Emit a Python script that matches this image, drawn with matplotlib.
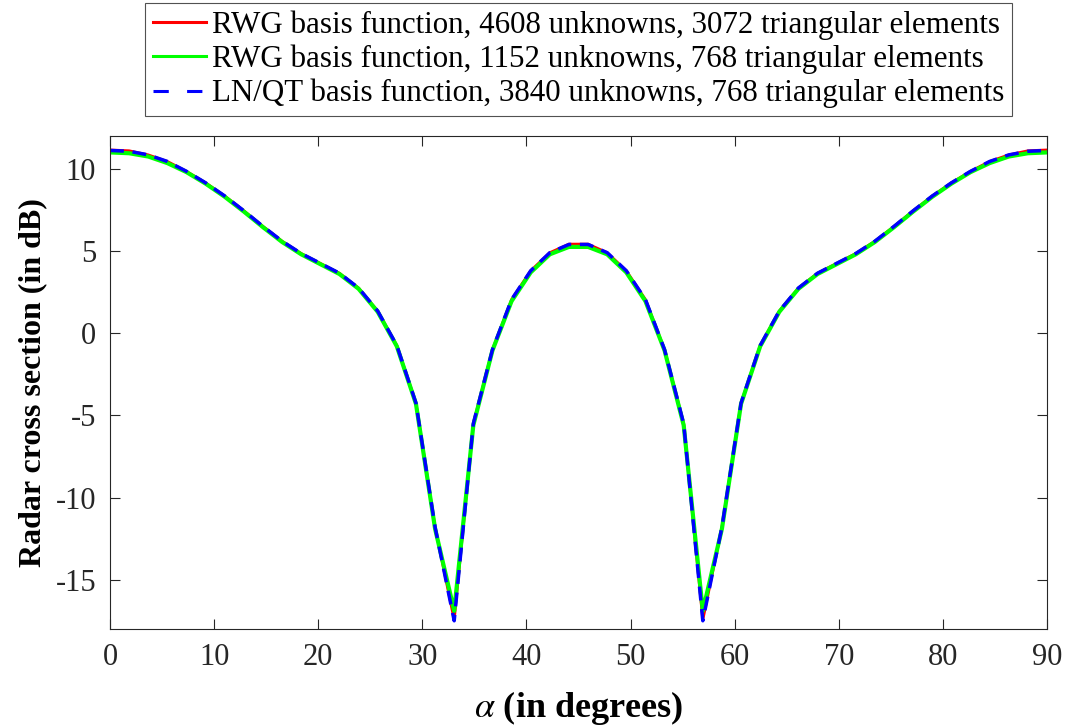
import matplotlib
matplotlib.use("Agg")
import matplotlib.pyplot as plt
import numpy as np

plt.rcParams['font.family'] = ['Liberation Serif', 'DejaVu Serif']
plt.rcParams['mathtext.fontset'] = 'stix'
plt.rcParams['axes.unicode_minus'] = False

# incidence angle samples (degrees)
alpha = np.linspace(0, 90, 50)

# RCS values (dB)
rwg_fine = [11.15, 11.1, 10.85, 10.45, 9.85, 9.15, 8.35, 7.45, 6.5, 5.6,
            4.85, 4.25, 3.65, 2.75, 1.35, -0.75, -4.25, -11.8, -17.45, -5.5,
            -1.0, 2.05, 3.8, 4.9, 5.42,
            5.42, 4.9, 3.8, 2.05, -1.0, -5.5, -17.45, -11.8, -4.25, -0.75,
            1.35, 2.75, 3.65, 4.25, 4.85, 5.6, 6.5, 7.45, 8.35, 9.15,
            9.85, 10.45, 10.85, 11.1, 11.15]
rwg_coarse = [11.0, 10.95, 10.75, 10.35, 9.8, 9.1, 8.3, 7.4, 6.45, 5.55,
              4.8, 4.2, 3.6, 2.7, 1.3, -0.8, -4.3, -11.9, -16.9, -5.6,
              -1.05, 1.95, 3.7, 4.8, 5.25,
              5.25, 4.8, 3.7, 1.95, -1.05, -5.6, -16.9, -11.9, -4.3, -0.8,
              1.3, 2.7, 3.6, 4.2, 4.8, 5.55, 6.45, 7.4, 8.3, 9.1,
              9.8, 10.35, 10.75, 10.95, 11.0]
lnqt = [11.12, 11.07, 10.85, 10.45, 9.85, 9.15, 8.35, 7.45, 6.5, 5.6,
        4.85, 4.25, 3.65, 2.75, 1.35, -0.75, -4.25, -11.8, -17.5, -5.5,
        -1.0, 2.05, 3.8, 4.9, 5.4,
        5.4, 4.9, 3.8, 2.05, -1.0, -5.5, -17.5, -11.8, -4.25, -0.75,
        1.35, 2.75, 3.65, 4.25, 4.85, 5.6, 6.5, 7.45, 8.35, 9.15,
        9.85, 10.45, 10.85, 11.07, 11.12]

labels = ['RWG basis function, 4608 unknowns, 3072 triangular elements',
          'RWG basis function, 1152 unknowns, 768 triangular elements',
          'LN/QT basis function, 3840 unknowns, 768 triangular elements']

fig = plt.figure(figsize=(10.72, 7.26), dpi=100)
ax = fig.add_axes([0.1026, 0.1336, 0.8741, 0.6791])

ax.plot(alpha, rwg_fine, color='#ff0000', lw=2, label=labels[0])
ax.plot(alpha, rwg_coarse, color='#00ff00', lw=3, label=labels[1])
ax.plot(alpha, lnqt, color='#0000ff', lw=2.5, ls=(0, (4, 2.5)), label=labels[2])

ax.set_xlim(0, 90)
ax.set_ylim(-18, 12)
ax.set_xticks(np.arange(0, 91, 10))
ax.set_yticks([-15, -10, -5, 0, 5, 10])
ax.tick_params(direction='in', top=True, right=True, length=7, width=0.8,
               colors='#262626', labelsize=22, pad=10)
for s in ax.spines.values():
    s.set_color('#262626')
    s.set_linewidth(0.8)

ax.set_xlabel(r'$\alpha$ (in degrees)', fontsize=26, fontweight='bold', labelpad=12)
ax.set_ylabel('Radar cross section (in dB)', fontsize=23, fontweight='bold', labelpad=6)

leg = fig.legend(loc='upper center', bbox_to_anchor=(0.5397, 0.996), fontsize=22.3,
                 frameon=True, fancybox=False, edgecolor='#262626',
                 handlelength=1.7, handletextpad=0.2, borderpad=0.25,
                 labelspacing=0.15, borderaxespad=0)
leg.get_frame().set_linewidth(0.8)
for h in leg.get_lines():
    h.set_linewidth(2.2)
leg.get_lines()[2].set_dashes([5, 6])

fig.savefig('out.png', dpi=100)
